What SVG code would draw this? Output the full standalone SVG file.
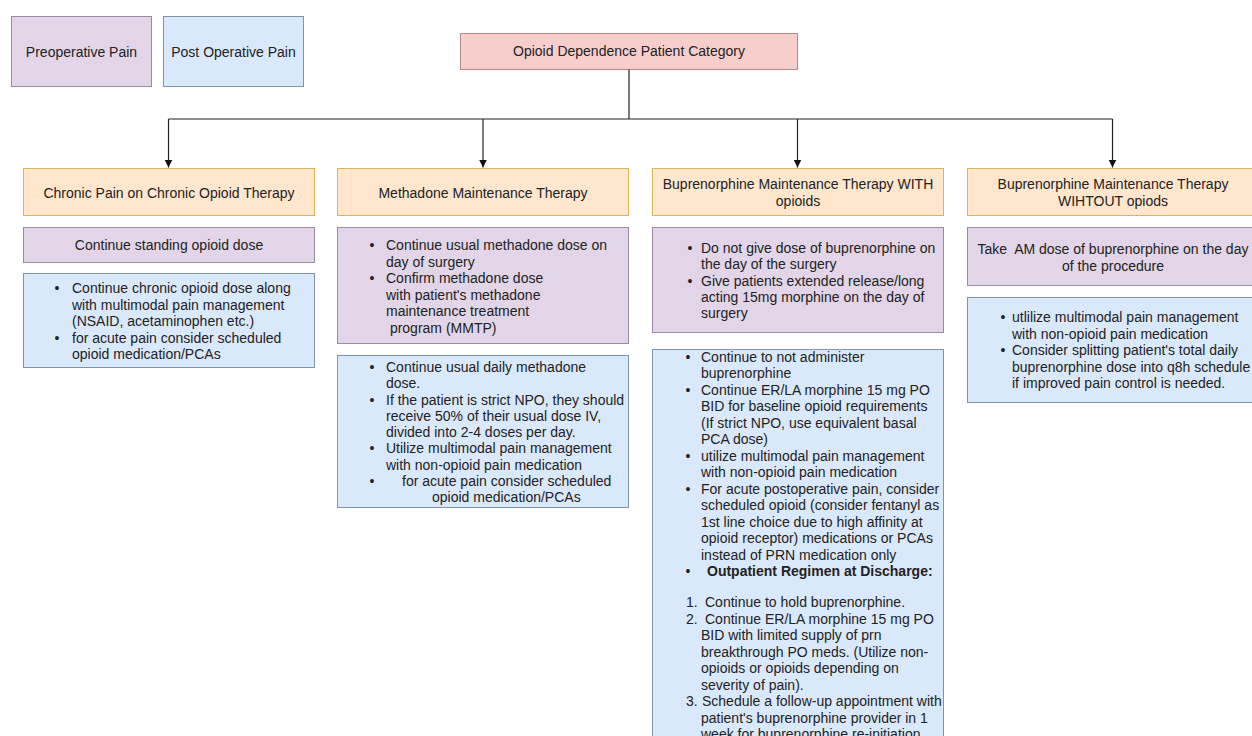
<svg xmlns="http://www.w3.org/2000/svg" width="1252" height="736" viewBox="0 0 1252 736">
<defs>
<style>
text{font-family:"Liberation Sans",Arial,sans-serif;font-size:14px;fill:#222;white-space:pre}
.c{text-anchor:middle}
.b{text-anchor:middle}
.pre{fill:#e1d5e7;stroke:#9a8aa5;stroke-width:1}
.post{fill:#dae8fc;stroke:#7f93ad;stroke-width:1}
.cat{fill:#ffe6cc;stroke:#d6b656;stroke-width:1}
.root{fill:#f8cecc;stroke:#b48a88;stroke-width:1}
.edge{fill:none;stroke:#222;stroke-width:1.2}
</style>
<marker id="arr" viewBox="0 0 10 10" refX="10" refY="5" markerWidth="8" markerHeight="8" markerUnits="userSpaceOnUse" orient="auto">
<path d="M0,0 L10,5 L0,10 Z" fill="#111"/>
</marker>
</defs>
<rect width="1252" height="736" fill="#fff"/>

<g id="legend-pre"><rect class="pre" x="11.5" y="16.5" width="140" height="70"/><text class="c" x="81.5" y="57">Preoperative Pain</text></g>
<g id="legend-post"><rect class="post" x="163.5" y="16.5" width="140" height="70"/><text class="c" x="233.5" y="57">Post Operative Pain</text></g>

<g id="root"><rect class="root" x="460.5" y="33.5" width="337" height="36"/><text class="c" x="629" y="56">Opioid Dependence Patient Category</text></g>

<g id="connectors">
<path class="edge" d="M629,69.5 V119 M168.5,119 H1112.5"/>
<path class="edge" d="M168.5,119 V167.5" marker-end="url(#arr)"/>
<path class="edge" d="M483,119 V167.5" marker-end="url(#arr)"/>
<path class="edge" d="M797.5,119 V167.5" marker-end="url(#arr)"/>
<path class="edge" d="M1112.5,119 V167.5" marker-end="url(#arr)"/>
</g>

<g id="chronic">
<rect class="cat" x="23.5" y="168.5" width="291" height="47"/>
<text class="c" x="169" y="198">Chronic Pain on Chronic Opioid Therapy</text>
</g>
<g id="chronic-pre">
<rect class="pre" x="23.5" y="227.5" width="291" height="35"/>
<text class="c" x="169" y="250">Continue standing opioid dose</text>
</g>
<g id="chronic-post">
<rect class="post" x="23.5" y="273.5" width="291" height="94"/>
<text class="b" x="57" y="293">•</text><text x="72" y="293">Continue chronic opioid dose along</text>
<text x="72" y="309.5">with multimodal pain management</text>
<text x="72" y="326">(NSAID, acetaminophen etc.)</text>
<text class="b" x="57" y="342.5">•</text><text x="72" y="342.5">for acute pain consider scheduled</text>
<text x="72" y="359">opioid medication/PCAs</text>
</g>

<g id="methadone">
<rect class="cat" x="337.5" y="168.5" width="291" height="47"/>
<text class="c" x="483" y="198">Methadone Maintenance Therapy</text>
</g>
<g id="methadone-pre">
<rect class="pre" x="337.5" y="227.5" width="291" height="116"/>
<text class="b" x="372" y="250">•</text><text x="386" y="250">Continue usual methadone dose on</text>
<text x="386" y="266.5">day of surgery</text>
<text class="b" x="372" y="283">•</text><text x="386" y="283">Confirm methadone dose</text>
<text x="386" y="299.5">with patient's methadone</text>
<text x="386" y="316">maintenance treatment</text>
<text x="386" y="332.5"> program (MMTP)</text>
</g>
<g id="methadone-post">
<rect class="post" x="337.5" y="355.5" width="291" height="152"/>
<text class="b" x="372" y="372">•</text><text x="386" y="372">Continue usual daily methadone</text>
<text x="386" y="388.3">dose.</text>
<text class="b" x="372" y="404.5">•</text><text x="386" y="404.5">If the patient is strict NPO, they should</text>
<text x="386" y="420.8">receive 50% of their usual dose IV,</text>
<text x="386" y="437">divided into 2-4 doses per day.</text>
<text class="b" x="372" y="453.3">•</text><text x="386" y="453.3">Utilize multimodal pain management</text>
<text x="386" y="469.5">with non-opioid pain medication</text>
<text class="b" x="372" y="485.8">•</text><text x="402" y="485.8">for acute pain consider scheduled</text>
<text x="432" y="502">opioid medication/PCAs</text>
</g>

<g id="bup-with">
<rect class="cat" x="652.5" y="168.5" width="291" height="47"/>
<text class="c" x="798" y="189">Buprenorphine Maintenance Therapy WITH</text>
<text class="c" x="798" y="206">opioids</text>
</g>
<g id="bup-with-pre">
<rect class="pre" x="652.5" y="227.5" width="291" height="105"/>
<text class="b" x="690" y="253">•</text><text x="701" y="253">Do not give dose of buprenorphine on</text>
<text x="701" y="269">the day of the surgery</text>
<text class="b" x="690" y="285.5">•</text><text x="701" y="285.5">Give patients extended release/long</text>
<text x="701" y="302">acting 15mg morphine on the day of</text>
<text x="701" y="318">surgery</text>
</g>
<g id="bup-with-post">
<rect class="post" x="652.5" y="349.5" width="291" height="400"/>
<text class="b" x="688" y="361.5">•</text><text x="701" y="361.5">Continue to not administer</text>
<text x="701" y="378">buprenorphine</text>
<text class="b" x="688" y="394.5">•</text><text x="701" y="394.5">Continue ER/LA morphine 15 mg PO</text>
<text x="701" y="411">BID for baseline opioid requirements</text>
<text x="701" y="427.5">(If strict NPO, use equivalent basal</text>
<text x="701" y="444">PCA dose)</text>
<text class="b" x="688" y="460.5">•</text><text x="701" y="460.5">utilize multimodal pain management</text>
<text x="701" y="477">with non-opioid pain medication</text>
<text class="b" x="688" y="493.5">•</text><text x="701" y="493.5">For acute postoperative pain, consider</text>
<text x="701" y="510">scheduled opioid (consider fentanyl as</text>
<text x="701" y="526.5">1st line choice due to high affinity at</text>
<text x="701" y="543">opioid receptor) medications or PCAs</text>
<text x="701" y="559.5">instead of PRN medication only</text>
<text class="b" x="688" y="576">•</text><text x="707" y="576" font-weight="bold">Outpatient Regimen at Discharge:</text>
<text x="686" y="607">1.</text><text x="705" y="607">Continue to hold buprenorphine.</text>
<text x="686" y="623.5">2.</text><text x="705" y="623.5">Continue ER/LA morphine 15 mg PO</text>
<text x="701" y="640">BID with limited supply of prn</text>
<text x="701" y="656.5">breakthrough PO meds. (Utilize non-</text>
<text x="701" y="673">opioids or opioids depending on</text>
<text x="701" y="689.5">severity of pain).</text>
<text x="686" y="706">3.</text><text x="702" y="706">Schedule a follow-up appointment with</text>
<text x="701" y="722.5">patient's buprenorphine provider in 1</text>
<text x="701" y="739">week for buprenorphine re-initiation.</text>
</g>

<g id="bup-without">
<rect class="cat" x="967.5" y="168.5" width="291" height="47"/>
<text class="c" x="1113" y="189">Buprenorphine Maintenance Therapy</text>
<text class="c" x="1113" y="206">WIHTOUT opiods</text>
</g>
<g id="bup-without-pre">
<rect class="pre" x="967.5" y="227.5" width="291" height="58"/>
<text class="c" x="1113" y="254">Take  AM dose of buprenorphine on the day</text>
<text class="c" x="1113" y="271">of the procedure</text>
</g>
<g id="bup-without-post">
<rect class="post" x="967.5" y="297.5" width="291" height="105"/>
<text class="b" x="1003" y="322">•</text><text x="1012" y="322">utlilize multimodal pain management</text>
<text x="1012" y="338.5">with non-opioid pain medication</text>
<text class="b" x="1003" y="355">•</text><text x="1012" y="355">Consider splitting patient's total daily</text>
<text x="1012" y="371.5">buprenorphine dose into q8h schedule</text>
<text x="1012" y="388">if improved pain control is needed.</text>
</g>
</svg>
